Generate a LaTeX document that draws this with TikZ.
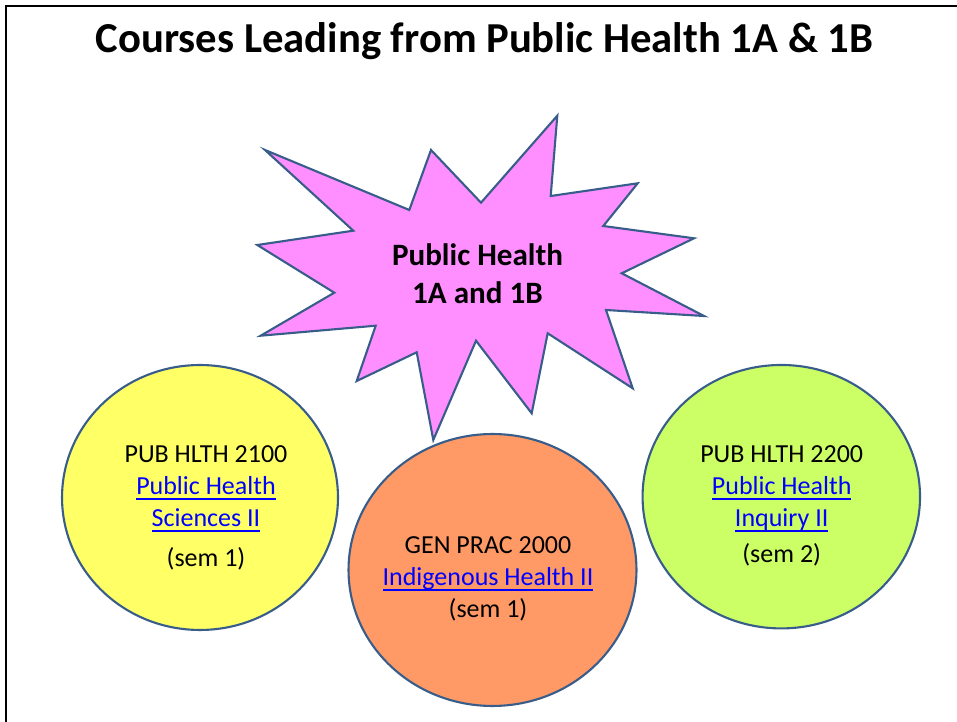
\documentclass[tikz,border=0pt]{standalone}
\usepackage{fontspec}
\setmainfont{Carlito}
\usetikzlibrary{shapes.geometric}

\definecolor{outline}{RGB}{56,93,138}
\definecolor{starpink}{RGB}{255,143,255}
\definecolor{sunyellow}{RGB}{255,255,102}
\definecolor{peach}{RGB}{255,153,102}
\definecolor{lime}{RGB}{204,255,102}
\definecolor{linkblue}{RGB}{0,0,255}

\newcommand{\courselink}[1]{\textcolor{linkblue}{\setbox0\hbox{#1}\rlap{\rule[-2.8pt]{\wd0}{1pt}}\box0}}

\begin{document}
\begin{tikzpicture}[x=0.02cm,y=-0.02cm,
    course node/.style={ellipse,draw=outline,line width=1.2pt,inner sep=0pt},
    course text/.style={align=center,inner sep=0pt,anchor=north,font=\fontsize{14.8}{18.2}\selectfont}]

    \useasboundingbox (0,0) rectangle (957,722);
    \draw[line width=1.3pt] (957,6.2) -- (6.2,6.2) -- (6.2,722);

    \node[anchor=base,font=\fontsize{24.3}{28}\bfseries\selectfont] (title) at (484.5,53) {Courses Leading from Public Health 1A \& 1B};

    % the burst
    \draw[outline,fill=starpink,line width=1.2pt,line join=miter]
        (265,150) -- (409.3,210) -- (431,150) -- (481,202.7) -- (557.3,115.7)
        -- (550.7,196) -- (637.7,183.3) -- (603.3,226) -- (694,238.3)
        -- (621.7,273.3) -- (704,316) -- (606,310) -- (632.7,388.3)
        -- (547.7,333.3) -- (531.7,413.3) -- (476,340.7) -- (433.3,440)
        -- (416.7,352.3) -- (356.7,381) -- (375.7,325.7) -- (260.7,335.7)
        -- (334.3,292.7) -- (257.3,245) -- (353.3,230.7) -- cycle;
    \node[align=center,inner sep=0pt,anchor=north,font=\fontsize{17.7}{22}\bfseries\selectfont] (core) at (477.5,243) {Public Health\\1A and 1B};

    \node[course node,fill=sunyellow,minimum width=5.52cm,minimum height=5.3cm] (sci) at (200,497.5) {};
    \node[course node,fill=peach,minimum width=5.76cm,minimum height=5.44cm] (indig) at (492.5,570) {};
    \node[course node,fill=lime,minimum width=5.55cm,minimum height=5.27cm] (inq) at (781.3,496.7) {};

    \node[course text] (sci text) at (206,445.7) {PUB HLTH 2100\\\courselink{Public Health}\\\courselink{Sciences II}\\[4.5pt](sem 1)};
    \node[course text] (indig text) at (488,536.5) {GEN PRAC 2000\\\courselink{Indigenous Health II}\\(sem 1)};
    \node[course text] (inq text) at (781.7,445.7) {PUB HLTH 2200\\\courselink{Public Health}\\\courselink{Inquiry II}\\[2.3pt](sem 2)};

\end{tikzpicture}
\end{document}
